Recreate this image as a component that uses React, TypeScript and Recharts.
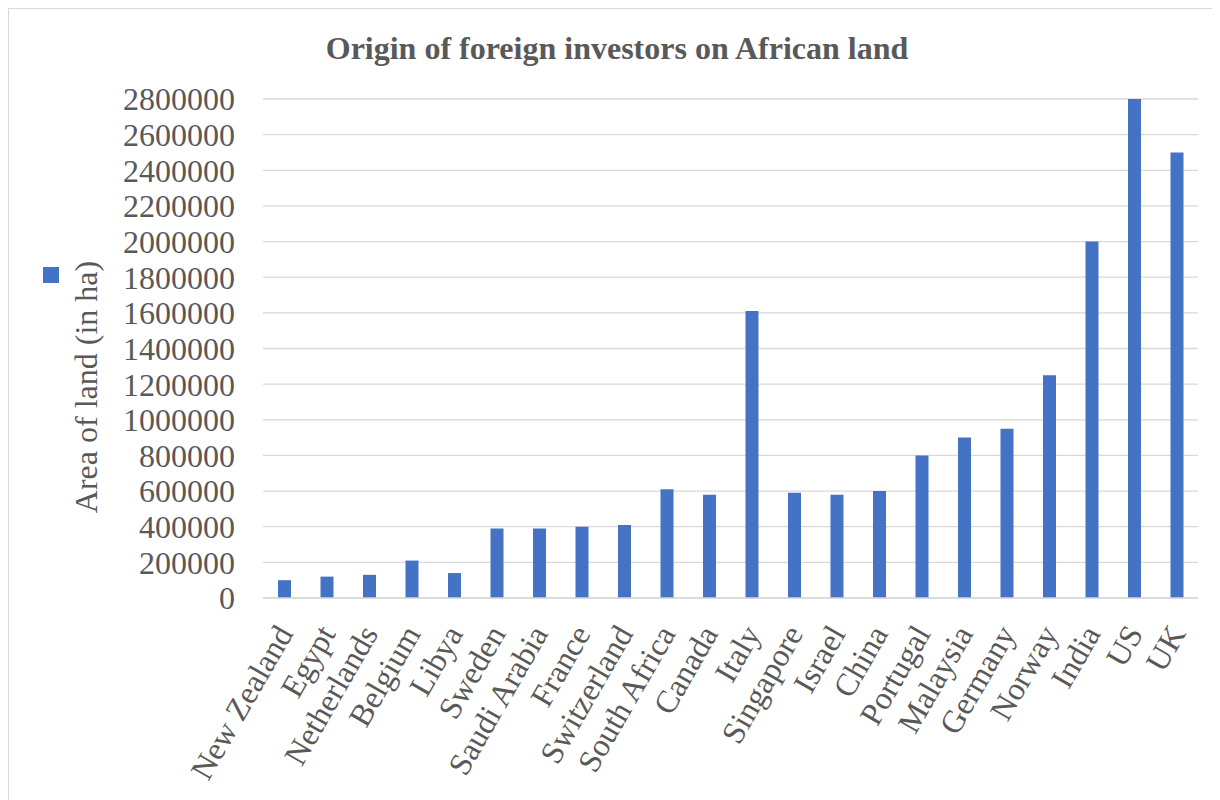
import { BarChart, Bar, XAxis, YAxis, CartesianGrid } from 'recharts'

const countries = [
  'New Zealand', 'Egypt', 'Netherlands', 'Belgium', 'Libya', 'Sweden', 'Saudi Arabia',
  'France', 'Switzerland', 'South Africa', 'Canada', 'Italy', 'Singapore', 'Israel',
  'China', 'Portugal', 'Malaysia', 'Germany', 'Norway', 'India', 'US', 'UK',
]
const areas = [
  100000, 120000, 130000, 210000, 140000, 390000, 390000,
  400000, 410000, 610000, 580000, 1610000, 590000, 580000,
  600000, 800000, 900000, 950000, 1250000, 2000000, 2800000, 2500000,
]
const yTicks = [
  0, 200000, 400000, 600000, 800000, 1000000, 1200000, 1400000,
  1600000, 1800000, 2000000, 2200000, 2400000, 2600000, 2800000,
]

const data = countries.map((country, i) => ({ country, area: areas[i] }))

const FONT = "'Times New Roman', 'Liberation Serif', serif"
const TEXT = '#595959'
const BLUE = '#4472C4'

const CountryTick = ({ x, y, payload }: any) => (
  <g transform={`translate(${x},${y + 30})`}>
    <text
      textAnchor="end"
      dy="0.35em"
      transform="rotate(-60)"
      fill={TEXT}
      style={{ fontSize: 32, fontFamily: FONT }}
    >
      {payload.value}
    </text>
  </g>
)

export default function App() {
  return (
    <div
      style={{
        position: 'relative',
        width: 1204,
        height: 792,
        borderTop: '1px solid #d9d9d9',
        borderLeft: '1px solid #d9d9d9',
        background: '#fff',
      }}
    >
      <div
        style={{
          position: 'absolute',
          left: 0,
          width: 1216,
          top: 19,
          textAlign: 'center',
          fontFamily: FONT,
          fontWeight: 'bold',
          fontSize: 32,
          color: TEXT,
          lineHeight: '40px',
        }}
      >
        Origin of foreign investors on African land
      </div>
      {/* legend marker, the series has no name */}
      <div
        style={{ position: 'absolute', left: 34, top: 258, width: 16, height: 16, background: BLUE }}
      />
      <div
        style={{
          position: 'absolute',
          left: 77 - 200,
          top: 378 - 20,
          width: 400,
          height: 40,
          lineHeight: '40px',
          textAlign: 'center',
          transform: 'rotate(-90deg)',
          fontFamily: FONT,
          fontSize: 32,
          color: TEXT,
          whiteSpace: 'nowrap',
        }}
      >
        Area of land (in ha)
      </div>
      <BarChart
        width={1203}
        height={790}
        data={data}
        margin={{ top: 90, right: 14, left: 0, bottom: 0 }}
        barCategoryGap={0}
      >
        <CartesianGrid vertical={false} stroke="#d9d9d9" strokeWidth={1.3} />
        <XAxis
          dataKey="country"
          interval={0}
          height={201}
          tick={<CountryTick />}
          tickLine={false}
          tickSize={0}
          tickMargin={0}
          axisLine={{ stroke: '#d9d9d9', strokeWidth: 1.3 }}
        />
        <YAxis
          width={254}
          domain={[0, 2800000]}
          ticks={yTicks}
          interval={0}
          tickLine={false}
          axisLine={false}
          tickSize={0}
          tickMargin={28}
          tick={{ fill: TEXT, fontSize: 32, fontFamily: FONT }}
        />
        <Bar dataKey="area" fill={BLUE} barSize={13} isAnimationActive={false} />
      </BarChart>
    </div>
  )
}
